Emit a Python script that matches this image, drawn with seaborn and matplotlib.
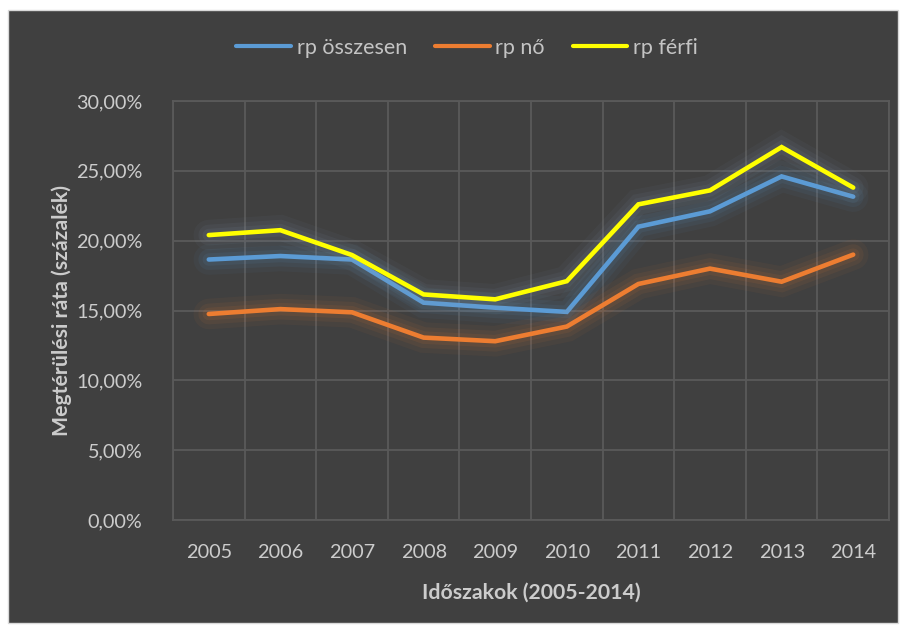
import matplotlib
matplotlib.use("Agg")
import matplotlib.pyplot as plt
import matplotlib.patheffects as pe
from matplotlib.patches import Rectangle
from matplotlib.ticker import FuncFormatter, FixedLocator
import numpy as np
import pandas as pd
import seaborn as sns

# data
years = ["2005", "2006", "2007", "2008", "2009", "2010", "2011", "2012", "2013", "2014"]
rp_osszesen = [0.1865, 0.189, 0.1865, 0.1556, 0.152, 0.149, 0.210, 0.221, 0.246, 0.2315]
rp_no = [0.1475, 0.151, 0.1487, 0.1306, 0.128, 0.1385, 0.169, 0.180, 0.1706, 0.190]
rp_ferfi = [0.204, 0.2075, 0.1897, 0.1615, 0.158, 0.171, 0.226, 0.236, 0.267, 0.238]
series_names = ["rp összesen", "rp nő", "rp férfi"]
colors = ["#5B9BD5", "#ED7D31", "#FFFF00"]

bg = "#404040"
grid_c = "#5a5a5a"
txt_c = "#cccccc"

df = pd.DataFrame({
    "x": list(range(len(years))) * 3,
    "value": rp_osszesen + rp_no + rp_ferfi,
    "series": [n for n in series_names for _ in years],
})

sns.set_style("dark")
plt.rcParams["font.family"] = ["Lato", "DejaVu Sans"]

fig = plt.figure(figsize=(9.06, 6.28), dpi=100)
fig.patch.set_facecolor("white")
# dark chart panel with thin light frame
fig.patches.append(Rectangle((8 / 906, 1 - 623 / 628), 890 / 906, 613 / 628,
                             transform=fig.transFigure, facecolor=bg,
                             edgecolor="#d9d9d9", linewidth=1, zorder=-5))

ax = fig.add_axes([173 / 906, 1 - 520 / 628, 716 / 906, 419 / 628])
ax.set_zorder(2)
ax.set_facecolor(bg)

sns.lineplot(data=df, x="x", y="value", hue="series", palette=colors,
             hue_order=series_names, linewidth=3.3, ax=ax, legend=False,
             zorder=3)

# soft glow like the Excel style
for line, c in zip(ax.lines, colors):
    glow = "#8aa0b8" if c == "#FFFF00" else c
    line.set_solid_capstyle("round")
    line.set_solid_joinstyle("miter")
    line.set_path_effects([
        pe.Stroke(linewidth=22, foreground=glow, alpha=0.05),
        pe.Stroke(linewidth=15, foreground=glow, alpha=0.07),
        pe.Stroke(linewidth=9, foreground=glow, alpha=0.09),
        pe.Normal(),
    ])

ax.set_xlim(-0.5, len(years) - 0.5)
ax.set_ylim(0, 0.30)
ax.xaxis.set_major_locator(FixedLocator(range(len(years))))
ax.set_xticklabels(years)
ax.xaxis.set_minor_locator(FixedLocator(np.arange(-0.5, len(years), 1.0)))
ax.set_yticks(np.arange(0, 0.301, 0.05))
ax.yaxis.set_major_formatter(FuncFormatter(lambda v, p: f"{v * 100:.2f}%".replace(".", ",")))

ax.grid(False)
ax.grid(True, which="minor", axis="x", color=grid_c, linewidth=1.3)
ax.grid(True, which="major", axis="y", color=grid_c, linewidth=1.3)
ax.tick_params(which="both", length=0, colors=txt_c, labelsize=14.3)
ax.tick_params(axis="y", pad=22)
ax.tick_params(axis="x", pad=17)
for s in ax.spines.values():
    s.set_color(grid_c)
    s.set_linewidth(1.3)

ax.set_xlabel("Időszakok (2005-2014)", color=txt_c, fontsize=15.3, fontweight="bold", labelpad=16)
ax.set_ylabel("Megtérülési ráta (százalék)", color=txt_c, fontsize=15.3, fontweight="bold", labelpad=3)

handles = [plt.Line2D([], [], color=c, linewidth=3, solid_capstyle="round") for c in colors]
fig.legend(handles, series_names, loc="center", bbox_to_anchor=(467 / 906, 1 - 48 / 628), ncol=3,
           frameon=False, fontsize=15.5, labelcolor="#c4c4c4", handlelength=2.55,
           columnspacing=1.3, handletextpad=0.25)

fig.savefig("out.png", dpi=100, facecolor="white")
